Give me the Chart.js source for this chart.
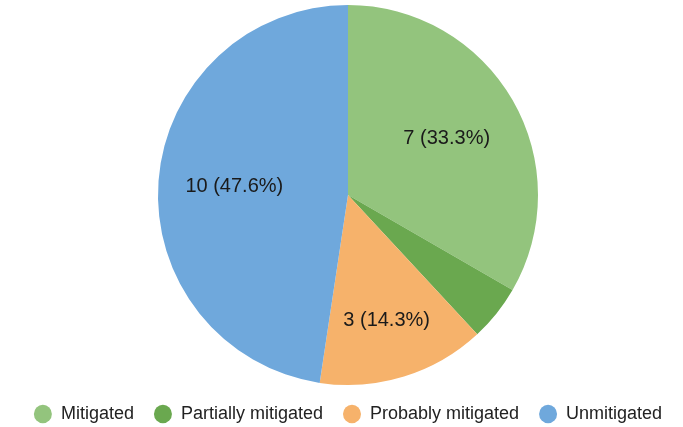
<!DOCTYPE html>
<html>
<head>
<meta charset="utf-8">
<script src="https://cdn.jsdelivr.net/npm/chart.js@4.4.1/dist/chart.umd.min.js"></script>
<style>
  html, body { margin: 0; padding: 0; background: #fff; }
  #wrap { width: 683px; height: 427px; }
</style>
</head>
<body>
<div id="wrap"><canvas id="grafikPie"></canvas></div>
<script>
const kategori = ['Mitigated', 'Partially mitigated', 'Probably mitigated', 'Unmitigated'];
const jumlah = [7, 1, 3, 10];
const warna = ['#93c47d', '#6aa84f', '#f6b26b', '#6fa8dc'];

// label "n (xx.x%)" di dalam irisan
const labelIrisan = {
    id: 'labelIrisan',
    afterDatasetsDraw(chart) {
        const ctx = chart.ctx;
        const data = chart.data.datasets[0].data;
        const total = data.reduce((a, b) => a + b, 0);
        chart.getDatasetMeta(0).data.forEach((arc, i) => {
            const frac = data[i] / total;
            if (frac < 0.05) return;
            const span = arc.endAngle - arc.startAngle;
            const mid = arc.startAngle + span / 2;
            // irisan sempit: label digeser keluar
            const r = arc.outerRadius * (span < Math.PI / 3 ? 0.69 : 0.6);
            const x = arc.x + Math.cos(mid) * r;
            const y = arc.y + Math.sin(mid) * r;
            ctx.save();
            ctx.font = '20px "Liberation Sans", Arial, sans-serif';
            ctx.fillStyle = '#1a1a1a';
            ctx.textAlign = 'center';
            ctx.textBaseline = 'middle';
            ctx.fillText(data[i] + ' (' + (frac * 100).toFixed(1) + '%)', x, y);
            ctx.restore();
        });
    }
};

const ctx = document.getElementById('grafikPie').getContext('2d');
const chart = new Chart(ctx, {
    type: 'pie',
    data: {
        labels: kategori,
        datasets: [{
            data: jumlah,
            backgroundColor: warna,
            borderWidth: 0
        }]
    },
    options: {
        responsive: true,
        maintainAspectRatio: false,
        animation: false,
        layout: {
            padding: { top: 5, bottom: 0, left: 13, right: 0 }
        },
        plugins: {
            tooltip: { enabled: false },
            legend: {
                position: 'bottom',
                maxHeight: 42,
                labels: {
                    usePointStyle: true,
                    pointStyle: 'circle',
                    pointStyleWidth: 18,
                    boxHeight: 13,
                    padding: 20,
                    color: '#222',
                    font: { size: 18, lineHeight: 1, family: '"Liberation Sans", Arial, sans-serif' }
                }
            }
        }
    },
    plugins: [labelIrisan]
});
</script>
</body>
</html>
